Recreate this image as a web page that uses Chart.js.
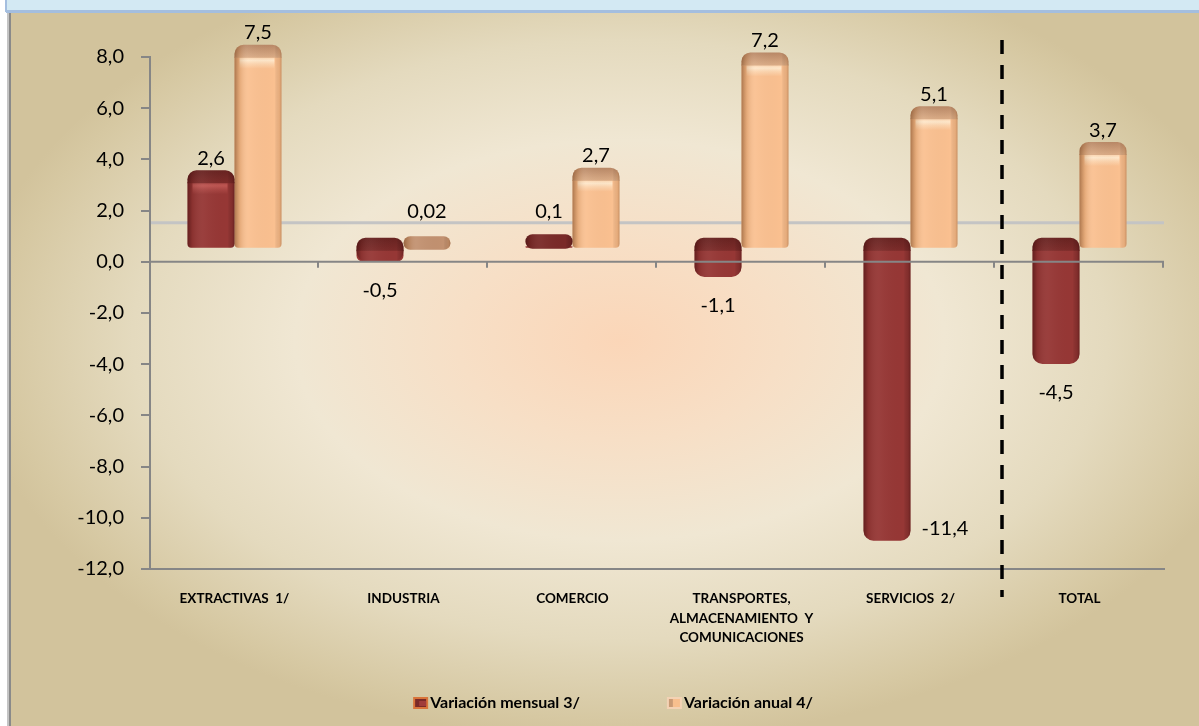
<!DOCTYPE html>
<html><head><meta charset="utf-8">
<script src="https://cdn.jsdelivr.net/npm/chart.js@4.4.1/dist/chart.umd.min.js"></script>
<style>html,body{margin:0;padding:0;background:#fff;overflow:hidden}#wrap{position:relative;width:1199px;height:726px}</style>
</head><body><div id="wrap"><canvas id="c" width="1199" height="726"></canvas></div>
<script>
// ---------- data ----------
const categories = [['EXTRACTIVAS  1/'], ['INDUSTRIA'], ['COMERCIO'], ['TRANSPORTES,', 'ALMACENAMIENTO  Y', 'COMUNICACIONES'], ['SERVICIOS  2/'], ['TOTAL']];
const seriesNames = ['Variación mensual 3/', 'Variación anual 4/'];
const mensual = [2.6, -0.5, 0.1, -1.1, -11.4, -4.5];
const anual = [7.5, 0.02, 2.7, 7.2, 5.1, 3.7];
const yMin = -12, yMax = 8, yStep = 2;

// ---------- style ----------
const DEPTH = 13, CAP = 12;
const FONT = 'Lato, "Open Sans", sans-serif';
const PAL = [
  { body: '#963735', capTop: '#682321', capBot: '#7b2b29', hi: '215,105,100', hiA: 0.6, tiny: '#7a2a28',
    side: [[0,'rgba(50,8,8,0.5)'],[0.1,'rgba(50,8,8,0.12)'],[0.35,'rgba(255,255,255,0.04)'],[0.85,'rgba(0,0,0,0)'],[0.95,'rgba(50,8,8,0.2)'],[1,'rgba(50,8,8,0.45)']] },
  { body: '#fac090', capTop: '#b98866', capBot: '#d9aa84', hi: '255,238,212', hiA: 0.85, tiny: '#c29170',
    side: [[0,'rgba(120,70,35,0.6)'],[0.12,'rgba(150,90,40,0.2)'],[0.3,'rgba(255,255,255,0.05)'],[0.85,'rgba(0,0,0,0)'],[0.95,'rgba(150,90,40,0.18)'],[1,'rgba(120,70,35,0.4)']] }
];

function fmt(v) {
  const s = (v !== 0 && Math.abs(v) < 0.1) ? v.toFixed(2) : v.toFixed(1);
  return s.replace('.', ',');
}

function sideGrad(ctx, L, w, stops) {
  const g = ctx.createLinearGradient(L, 0, L + w, 0);
  stops.forEach(([o, c]) => g.addColorStop(o, c));
  return g;
}

function drawShade(ctx, el, v, di) {
  const p = el.getProps(['x', 'y', 'base', 'width'], true);
  const pal = PAL[di];
  const w = p.width, L = p.x - w / 2;
  const top = Math.min(p.y, p.base), bot = Math.max(p.y, p.base), h = bot - top;
  const tiny = h < 6;
  const capEnd = v >= 0 ? p.y : p.base;
  if (v >= 0 && !tiny) {
    const hg = ctx.createLinearGradient(0, capEnd, 0, capEnd + 12);
    hg.addColorStop(0, 'rgba(' + pal.hi + ',0.35)');
    hg.addColorStop(0.3, 'rgba(' + pal.hi + ',' + pal.hiA + ')');
    hg.addColorStop(0.6, 'rgba(' + pal.hi + ',' + (pal.hiA * 0.5) + ')');
    hg.addColorStop(1, 'rgba(' + pal.hi + ',0)');
    ctx.fillStyle = hg;
    ctx.fillRect(L + 5, capEnd, w - 12, 12);
  }
  if (!tiny) {
    ctx.fillStyle = sideGrad(ctx, L, w, pal.side);
    ctx.beginPath(); ctx.roundRect(L, top, w, h, v >= 0 ? [0, 0, 4, 4] : [0, 0, 10, 10]); ctx.fill();
  }
  ctx.beginPath();
  if (tiny) {
    ctx.roundRect(L, capEnd - CAP, w, CAP + h + 1, 7);
    ctx.fillStyle = pal.tiny;
  } else {
    ctx.roundRect(L, capEnd - CAP, w, CAP + 1, [9, 9, 0, 0]);
    const cg = ctx.createLinearGradient(0, capEnd - CAP, 0, capEnd);
    cg.addColorStop(0, pal.capTop); cg.addColorStop(1, pal.capBot);
    ctx.fillStyle = cg;
  }
  ctx.fill();
  ctx.fillStyle = sideGrad(ctx, L, w, pal.side);
  ctx.fill();
}

const bgPlugin = {
  id: 'bg',
  beforeDraw(chart) {
    const { ctx, width: W, height: H } = chart;
    ctx.save();
    ctx.fillStyle = '#ffffff'; ctx.fillRect(0, 0, W, H);
    ctx.beginPath(); ctx.rect(11, 12, W - 11, H - 12); ctx.clip();
    const cx = 620, cy = 340, rx = 650, ry = 400;
    ctx.translate(cx, cy); ctx.scale(1, ry / rx);
    const g = ctx.createRadialGradient(0, 0, 0, 0, 0, rx);
    g.addColorStop(0, '#fbd6b8'); g.addColorStop(0.25, '#f7dfc6'); g.addColorStop(0.5, '#f0e7d3');
    g.addColorStop(0.75, '#e4dabe'); g.addColorStop(0.95, '#d6c8a2'); g.addColorStop(1, '#d2c39c');
    ctx.fillStyle = g;
    ctx.fillRect(-cx, -cy * rx / ry, W, H * rx / ry);
    ctx.restore();
    // frame
    ctx.save();
    ctx.fillStyle = '#d3e9f3'; ctx.fillRect(6, 0, W - 6, 10);
    ctx.fillStyle = '#a4bedf'; ctx.fillRect(6, 10, W - 6, 3); ctx.fillRect(5, 0, 2, 12);
    ctx.fillStyle = '#c4c4c4'; ctx.fillRect(7, 13, 2, H - 13);
    ctx.fillStyle = '#8a8a8a'; ctx.fillRect(9, 13, 2, H - 13);
    ctx.restore();
  }
};

const depthPlugin = {
  id: 'depth',
  beforeDatasetsDraw(chart) {
    const { ctx, chartArea: a, scales: { y } } = chart;
    const y0 = y.getPixelForValue(0);
    ctx.save();
    ctx.strokeStyle = '#c4c4c4'; ctx.lineWidth = 3;
    ctx.beginPath(); ctx.moveTo(a.left + 1, y0 - 3 * DEPTH); ctx.lineTo(a.right, y0 - 3 * DEPTH); ctx.stroke();
    ctx.restore();
    ctx.save();
    ctx.translate(0, -DEPTH);
  },
  afterDatasetsDraw(chart) {
    const { ctx, chartArea: a, scales: { x, y } } = chart;
    chart.data.datasets.forEach((ds, di) => {
      chart.getDatasetMeta(di).data.forEach((el, i) => drawShade(ctx, el, ds.data[i], di));
    });
    ctx.restore();
    const y0 = y.getPixelForValue(0);
    ctx.save();
    ctx.strokeStyle = '#868686'; ctx.lineWidth = 2;
    ctx.beginPath(); ctx.moveTo(a.left, y0); ctx.lineTo(a.right, y0);
    const n = chart.data.labels.length, cw = (a.right - a.left) / n;
    for (let i = 1; i <= n; i++) { const xx = Math.round(a.left + i * cw) - 1; ctx.moveTo(xx, y0); ctx.lineTo(xx, y0 + 6); }
    ctx.stroke();
    // dashed separator before TOTAL
    const xs = (x.getPixelForValue(n - 2) + x.getPixelForValue(n - 1)) / 2 + 7;
    ctx.strokeStyle = '#000'; ctx.lineWidth = 3.5; ctx.setLineDash([14, 11]);
    ctx.beginPath(); ctx.moveTo(xs, a.top - 17); ctx.lineTo(xs, a.bottom + 28); ctx.stroke();
    ctx.restore();
  }
};

const labelPlugin = {
  id: 'vlabels',
  afterDraw(chart) {
    const { ctx, chartArea: a, scales: { y } } = chart;
    const zeroTop = y.getPixelForValue(0) - DEPTH - CAP;
    ctx.save();
    ctx.font = '20px ' + FONT; ctx.fillStyle = '#000'; ctx.textBaseline = 'middle';
    chart.data.datasets.forEach((ds, di) => {
      chart.getDatasetMeta(di).data.forEach((el, i) => {
        const v = ds.data[i];
        const p = el.getProps(['x', 'y', 'base', 'width'], true);
        const txt = fmt(v);
        if (v >= 0) {
          const vt = p.y - DEPTH - CAP;
          ctx.textAlign = 'center';
          ctx.fillText(txt, p.x, Math.min(vt - 12, zeroTop - 25));
        } else {
          const b = p.y - DEPTH;
          if (b + 30 + 12 > a.bottom) {
            ctx.textAlign = 'left';
            ctx.fillText(txt, p.x + p.width / 2 + 11, b - 12);
          } else {
            ctx.textAlign = 'center';
            ctx.fillText(txt, p.x, b + 29);
          }
        }
      });
    });
    // legend
    ctx.font = 'bold 16px ' + FONT; ctx.textAlign = 'left';
    const ICON = 15, GAP = 2, SEP = 87, cyL = 703;
    const items = chart.data.datasets.map((d, di) => ({ label: d.label, di, w: ctx.measureText(d.label).width }));
    const total = items.reduce((s, it) => s + ICON + GAP + it.w, 0) + SEP * (items.length - 1);
    let xx = 613 - total / 2;
    items.forEach(it => {
      if (it.di === 0) {
        ctx.fillStyle = '#d9743a'; ctx.fillRect(xx, cyL - 6, ICON, 12);
        ctx.fillStyle = '#7a2a28'; ctx.fillRect(xx + 2, cyL - 4, ICON - 4, 8);
        ctx.fillStyle = '#a03c3a'; ctx.fillRect(xx + 6, cyL - 2, ICON - 8, 5);
      } else {
        ctx.fillStyle = '#f3d2b4'; ctx.fillRect(xx, cyL - 6, ICON, 12);
        ctx.fillStyle = '#c99a74'; ctx.fillRect(xx + 2, cyL - 4, 4, 8);
        ctx.fillStyle = '#f7bf8e'; ctx.fillRect(xx + 6, cyL - 4, ICON - 8, 8);
      }
      ctx.fillStyle = '#000';
      ctx.fillText(it.label, xx + ICON + GAP, cyL);
      xx += ICON + GAP + it.w + SEP;
    });
    ctx.restore();
  }
};

new Chart(document.getElementById('c'), {
  type: 'bar',
  data: {
    labels: categories,
    datasets: [
      { label: seriesNames[0], data: mensual, backgroundColor: PAL[0].body },
      { label: seriesNames[1], data: anual, backgroundColor: PAL[1].body }
    ]
  },
  options: {
    responsive: false,
    animation: false,
    devicePixelRatio: 1,
    layout: { padding: { top: 57, right: 35, left: 0, bottom: 0 } },
    datasets: {
      bar: {
        categoryPercentage: 0.556, barPercentage: 1.0, borderWidth: 0, borderSkipped: false, clip: false,
        borderRadius: (c) => (c.raw >= 0 ? { topLeft: 0, topRight: 0, bottomLeft: 4, bottomRight: 4 } : { topLeft: 0, topRight: 0, bottomLeft: 10, bottomRight: 10 })
      }
    },
    plugins: { legend: { display: false }, tooltip: { enabled: false } },
    scales: {
      x: {
        grid: { display: false, drawTicks: false },
        border: { display: true, color: '#868686', width: 2 },
        ticks: { font: { family: FONT, weight: 'bold', size: 13.5, lineHeight: 1.45 }, color: '#000', padding: 20, maxRotation: 0, autoSkip: false },
        afterFit(s) { s.height = 157; }
      },
      y: {
        min: yMin, max: yMax,
        ticks: { stepSize: yStep, callback: (v) => fmt(v), font: { family: FONT, size: 20 }, color: '#000', padding: 17 },
        grid: { drawOnChartArea: false, drawTicks: true, tickLength: 9, color: '#868686', lineWidth: 2 },
        border: { display: true, color: '#868686', width: 2 },
        afterFit(s) { s.width = 150; }
      }
    }
  },
  plugins: [bgPlugin, depthPlugin, labelPlugin]
});
</script>
</body></html>
